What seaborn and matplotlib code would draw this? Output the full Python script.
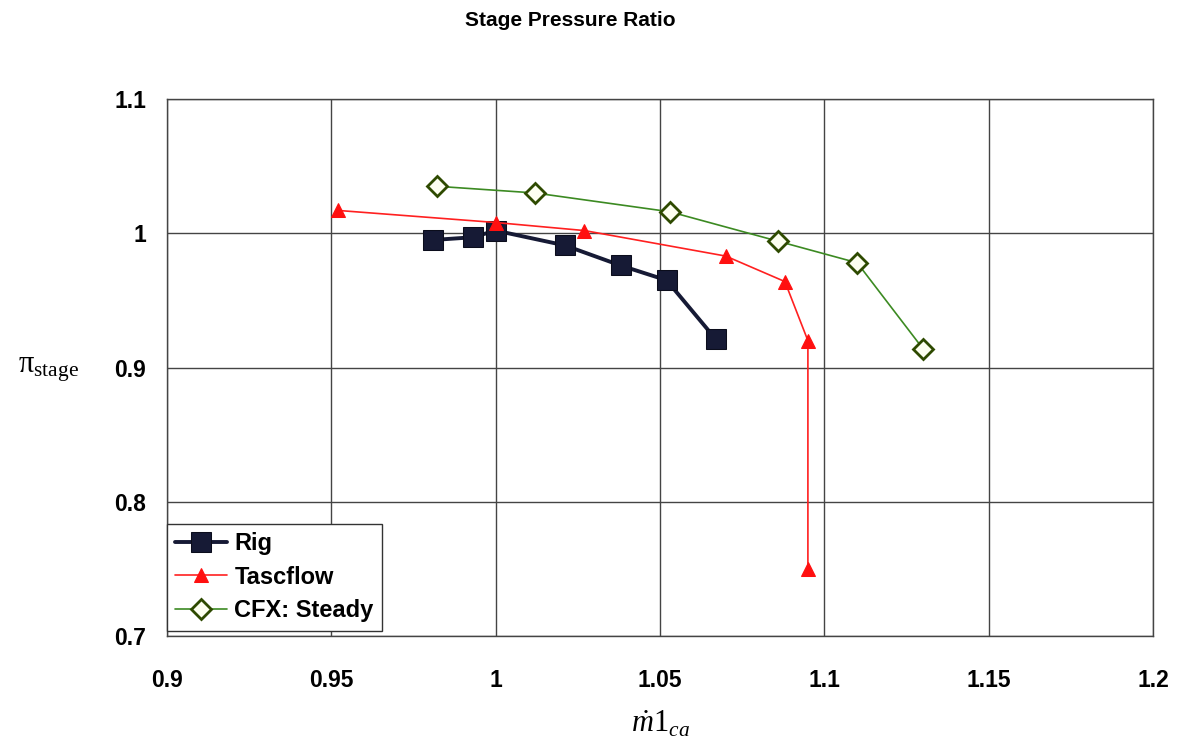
import matplotlib
matplotlib.use("Agg")
import matplotlib.pyplot as plt
import pandas as pd
import seaborn as sns

sns.set_style("white")
plt.rcParams["font.family"] = ["Liberation Sans", "DejaVu Sans"]
plt.rcParams["text.color"] = "black"
plt.rcParams["axes.labelcolor"] = "black"
plt.rcParams["xtick.color"] = "black"
plt.rcParams["ytick.color"] = "black"
plt.rcParams["mathtext.fontset"] = "custom"
plt.rcParams["mathtext.rm"] = "Liberation Serif"
plt.rcParams["mathtext.it"] = "Liberation Serif:italic"

# Values
rig_x = [0.981, 0.993, 1.000, 1.021, 1.038, 1.052, 1.067]
rig_y = [0.995, 0.997, 1.002, 0.991, 0.976, 0.965, 0.921]

tasc_x = [0.952, 1.000, 1.027, 1.070, 1.088, 1.095, 1.095]
tasc_y = [1.017, 1.008, 1.002, 0.983, 0.964, 0.920, 0.750]

cfx_x = [0.982, 1.012, 1.053, 1.086, 1.110, 1.130]
cfx_y = [1.035, 1.030, 1.016, 0.994, 0.978, 0.914]

x_ticks = [0.9, 0.95, 1.0, 1.05, 1.1, 1.15, 1.2]
x_labels = ["0.9", "0.95", "1", "1.05", "1.1", "1.15", "1.2"]
y_ticks = [0.7, 0.8, 0.9, 1.0, 1.1]
y_labels = ["0.7", "0.8", "0.9", "1", "1.1"]

rig = pd.DataFrame({"m": rig_x, "pi": rig_y})
tasc = pd.DataFrame({"m": tasc_x, "pi": tasc_y})
cfx = pd.DataFrame({"m": cfx_x, "pi": cfx_y})

fig = plt.figure(figsize=(11.81, 7.5), dpi=100)
ax = fig.add_axes([0.1414, 0.152, 0.8349, 0.716])

sns.lineplot(data=rig, x="m", y="pi", ax=ax, sort=False, estimator=None,
             color="#161a35", lw=2.8, marker="s", markersize=14,
             markerfacecolor="#161a35", markeredgecolor="#0b0d1c", label="Rig")
sns.lineplot(data=tasc, x="m", y="pi", ax=ax, sort=False, estimator=None,
             color="#ff2020", lw=1.2, marker="^", markersize=10,
             markerfacecolor="#ff1010", markeredgecolor="#ff1010", label="Tascflow")
sns.lineplot(data=cfx, x="m", y="pi", ax=ax, sort=False, estimator=None,
             color="#3c8a22", lw=1.2, marker="D", markersize=10,
             markerfacecolor="#fdfff0", markeredgecolor="#2e4a00",
             markeredgewidth=2, label="CFX: Steady")

ax.set_xlim(0.9, 1.2)
ax.set_ylim(0.7, 1.1)
ax.set_xticks(x_ticks)
ax.set_xticklabels(x_labels, fontsize=16.5, fontweight="bold")
ax.set_yticks(y_ticks)
ax.set_yticklabels(y_labels, fontsize=16.5, fontweight="bold")
ax.tick_params(axis="both", length=4, color="#444444")
ax.tick_params(axis="x", pad=20)
ax.tick_params(axis="y", pad=11)
ax.grid(True, color="#444444", lw=1)
for s in ax.spines.values():
    s.set_color("#444444")
    s.set_linewidth(1)

ax.set_xlabel(r"$\dot{m}1_{ca}$", fontsize=22, labelpad=12)
ax.set_ylabel(r"$\mathrm{π}_{\mathrm{stage}}$", fontsize=22, rotation=0)
ax.yaxis.set_label_coords(-0.12, 0.47)
fig.suptitle("Stage Pressure Ratio", fontsize=15, fontweight="bold", x=0.483, y=0.985)

leg = ax.legend(loc="lower left", bbox_to_anchor=(-0.012, -0.012), fancybox=False,
                framealpha=1, edgecolor="#333333", prop={"size": 17, "weight": "bold"},
                handlelength=2.2, borderpad=0.35, labelspacing=0.45, handletextpad=0.3)
leg.get_frame().set_linewidth(1)

fig.savefig("out.png", dpi=100)
